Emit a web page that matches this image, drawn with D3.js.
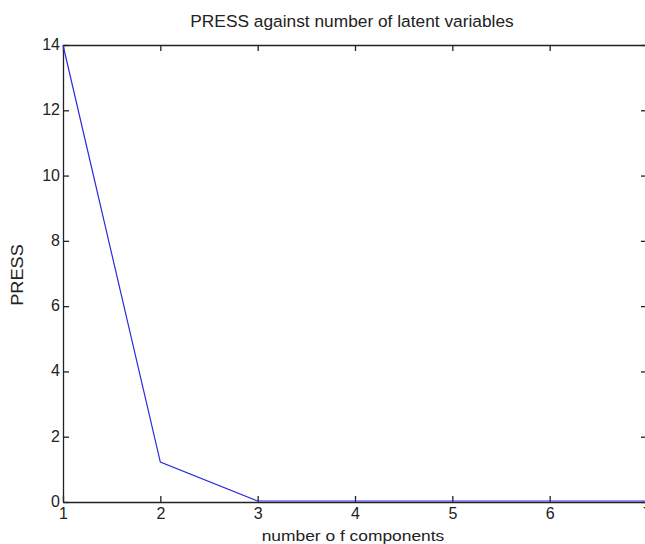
<!DOCTYPE html>
<html>
<head>
<meta charset="utf-8">
<script src="https://cdn.jsdelivr.net/npm/d3@7"></script>
<style>
  body { margin: 0; background: #fff; }
  #chart-area { width: 645px; height: 544px; overflow: hidden; }
  text { font-family: "Liberation Sans", Arial, sans-serif; fill: #222; }
  .axis path, .axis line { stroke: #222; stroke-width: 1.3; }
</style>
</head>
<body>
<div id="chart-area"></div>
<script>
// number of latent variables vs PRESS
const components = [1, 2, 3, 4, 5, 6, 7];
const press = [14, 1.22, 0.03, 0.03, 0.03, 0.03, 0.03];
const yTicks = [0, 2, 4, 6, 8, 10, 12, 14];

class PressVis {
  constructor(_parentElement) {
    this.parentElement = _parentElement;
    this.data = components.map((c, i) => ({ comp: c, press: press[i] }));
    this.initVis();
  }

  initVis() {
    let vis = this;

    vis.margin = { top: 45, right: -2, bottom: 42, left: 63 };
    vis.width = 645 - vis.margin.left - vis.margin.right;
    vis.height = 544 - vis.margin.top - vis.margin.bottom;

    vis.svg = d3.select("#" + vis.parentElement).append("svg")
      .attr("width", 645)
      .attr("height", 544)
      .style("display", "block")
      .append("g")
      .attr("transform", "translate(" + vis.margin.left + "," + vis.margin.top + ")");

    // Scales
    vis.x = d3.scaleLinear().domain([1, 7]).range([0, vis.width]);
    vis.y = d3.scaleLinear().domain([0, 14]).range([vis.height, 0]);

    // Matlab-ish box with inward ticks
    vis.xAxis = d3.axisBottom(vis.x).tickValues(components).tickFormat(d3.format("d"))
      .tickSizeInner(-6).tickSizeOuter(0).tickPadding(6);
    vis.yAxis = d3.axisLeft(vis.y).tickValues(yTicks).tickFormat(d3.format("d"))
      .tickSizeInner(-6).tickSizeOuter(0).tickPadding(3);
    vis.topAxis = d3.axisTop(vis.x).tickValues(components).tickFormat("")
      .tickSizeInner(-6).tickSizeOuter(0);
    vis.rightAxis = d3.axisRight(vis.y).tickValues(yTicks).tickFormat("")
      .tickSizeInner(-6).tickSizeOuter(0);

    vis.svg.append("g").attr("class", "axis top-axis").call(vis.topAxis);
    vis.svg.append("g").attr("class", "axis right-axis")
      .attr("transform", `translate(${vis.width}, 0)`).call(vis.rightAxis);
    vis.svg.append("g").attr("class", "axis x-axis")
      .attr("transform", `translate(0, ${vis.height})`).call(vis.xAxis);
    vis.svg.append("g").attr("class", "axis y-axis").call(vis.yAxis);

    vis.svg.selectAll(".axis text").style("font-size", "16px").attr("fill", "#222");
    vis.svg.selectAll(".y-axis text").attr("dy", "0.28em");

    // Titles (source figure was stretched sideways, hence the scale)
    vis.svg.append("text")
      .attr("transform", `translate(${352 - vis.margin.left}, ${27 - vis.margin.top}) scale(1.05, 1)`)
      .attr("text-anchor", "middle")
      .style("font-size", "16.5px")
      .text("PRESS against number of latent variables");

    vis.svg.append("text")
      .attr("transform", `translate(${353 - vis.margin.left}, ${541 - vis.margin.top}) scale(1.2, 1)`)
      .attr("text-anchor", "middle")
      .style("font-size", "14.5px")
      .text("number o f components");

    vis.svg.append("text")
      .attr("transform", `translate(${23 - vis.margin.left}, ${275 - vis.margin.top}) rotate(-90) scale(1.1, 1)`)
      .attr("text-anchor", "middle")
      .style("font-size", "16.5px")
      .text("PRESS");

    vis.updateVis();
  }

  updateVis() {
    let vis = this;

    vis.line = d3.line()
      .x(d => vis.x(d.comp))
      .y(d => vis.y(d.press));

    vis.svg.append("path")
      .datum(vis.data)
      .attr("class", "press-line")
      .attr("fill", "none")
      .attr("stroke", "#2b2bd9")
      .attr("stroke-width", 1.2)
      .attr("d", vis.line);
  }
}

new PressVis("chart-area");
</script>
</body>
</html>
